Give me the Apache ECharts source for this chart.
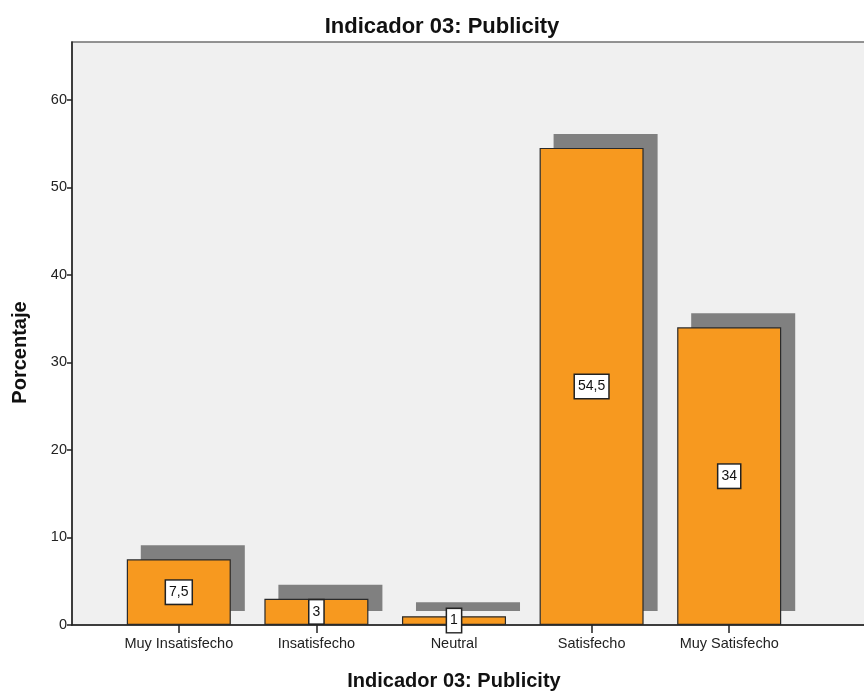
<!DOCTYPE html>
<html>
<head>
<meta charset="utf-8">
<script src="https://cdn.jsdelivr.net/npm/echarts@6/dist/echarts.min.js"></script>
<style>
  html, body { margin: 0; padding: 0; background: #fff; }
  #chart { width: 864px; height: 691px; }
</style>
</head>
<body>
<div id="chart"></div>
<script>
// Survey answers for "Indicador 03: Publicity", percentage per category
const categories = ['Muy Insatisfecho', 'Insatisfecho', 'Neutral', 'Satisfecho', 'Muy Satisfecho'];
const percentages = [7.5, 3, 1, 54.5, 34];
const yTicks = [0, 10, 20, 30, 40, 50, 60];

const FONT = '"Liberation Sans", Arial, sans-serif';
const Y_MAX = 66.6;
const BAR_RATIO = 0.756;
const SHADOW_SHIFT = 14;

const chart = echarts.init(document.getElementById('chart'), null, { renderer: 'canvas' });

const option = {
  animation: false,
  backgroundColor: '#ffffff',
  title: {
    text: 'Indicador 03: Publicity',
    left: 437,
    textAlign: 'center',
    top: 11,
    textStyle: { fontFamily: FONT, fontSize: 22, fontWeight: 'bold', color: '#111' }
  },
  grid: [
    // frame with the shaded plot background and the visible value axis
    { left: 72, right: -10, top: 42, bottom: 66, show: true, outerBoundsMode: 'none',
      backgroundColor: '#f0f0f0', borderColor: '#707070', borderWidth: 1.5 },
    // category band area carrying the bars
    { left: 110, right: 66, top: 42, bottom: 66, outerBoundsMode: 'none' }
  ],
  xAxis: [
    { gridIndex: 0, type: 'value', min: 0, max: 1,
      axisLine: { show: true, onZero: false, lineStyle: { color: '#222', width: 1.5 } },
      axisTick: { show: false }, axisLabel: { show: false }, splitLine: { show: false } },
    { gridIndex: 1, type: 'category', data: categories,
      axisLine: { show: false },
      axisTick: { show: true, alignWithLabel: true, interval: 0, length: 8,
        lineStyle: { color: '#222', width: 1.5 } },
      axisLabel: { interval: 0, hideOverlap: false, margin: 11,
        fontFamily: FONT, fontSize: 14.5, color: '#222' },
      name: 'Indicador 03: Publicity', nameLocation: 'middle', nameGap: 46,
      nameTextStyle: { fontFamily: FONT, fontSize: 20, fontWeight: 'bold', color: '#111' } }
  ],
  yAxis: [
    { gridIndex: 0, type: 'value', min: yTicks[0], max: Y_MAX, interval: 10,
      axisLine: { show: true, lineStyle: { color: '#222', width: 1.5 } },
      axisTick: { show: true, length: 5, lineStyle: { color: '#222', width: 1.5 },
        customValues: yTicks },
      axisLabel: { margin: 5, fontFamily: FONT, fontSize: 14.5, color: '#222',
        customValues: yTicks },
      splitLine: { show: false },
      name: 'Porcentaje', nameLocation: 'middle', nameGap: 42, nameRotate: 90,
      nameTextStyle: { fontFamily: FONT, fontSize: 20, fontWeight: 'bold', color: '#111',
        padding: [0, 38, 0, 0] } },
    { gridIndex: 1, type: 'value', min: 0, max: Y_MAX, show: false }
  ],
  series: [
    {
      // grey drop shadow offset up and to the right of each bar
      type: 'custom',
      xAxisIndex: 1, yAxisIndex: 1,
      z: 1,
      data: percentages.map((v, i) => [i, v]),
      renderItem: function (params, api) {
        const top = api.coord([api.value(0), api.value(1)]);
        const base = api.coord([api.value(0), 0]);
        const w = api.size([1, 0])[0] * BAR_RATIO;
        return {
          type: 'rect',
          shape: { x: top[0] - w / 2 + SHADOW_SHIFT, y: top[1] - SHADOW_SHIFT,
                   width: w, height: base[1] - top[1] },
          style: { fill: '#808080' }
        };
      }
    },
    {
      type: 'bar',
      xAxisIndex: 1, yAxisIndex: 1,
      z: 2,
      data: percentages,
      barWidth: (BAR_RATIO * 100) + '%',
      itemStyle: { color: '#f7991f', borderColor: '#2a2a2a', borderWidth: 1.2 },
      label: {
        show: true,
        position: 'inside',
        formatter: p => String(p.value).replace('.', ','),
        fontFamily: FONT, fontSize: 14, color: '#111',
        backgroundColor: '#ffffff', borderColor: '#222', borderWidth: 1.5,
        padding: [5, 3, 4, 3]
      }
    }
  ]
};

chart.setOption(option);
</script>
</body>
</html>
